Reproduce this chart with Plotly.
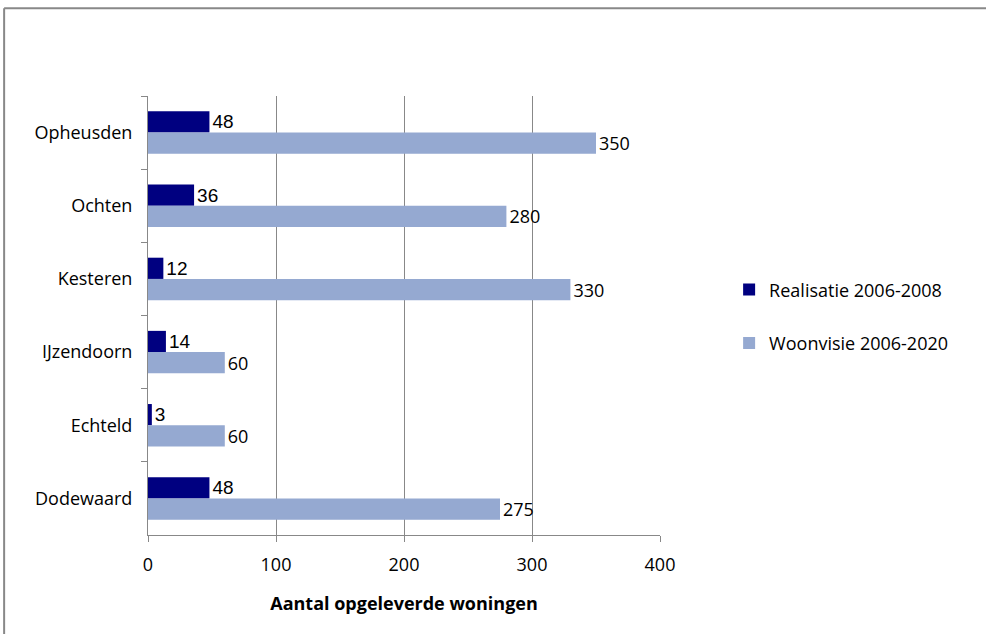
import plotly.graph_objects as go

# Kernen (top to bottom) and housing figures
kernen = ["Opheusden", "Ochten", "Kesteren", "IJzendoorn", "Echteld", "Dodewaard"]
realisatie = [48, 36, 12, 14, 3, 48]
woonvisie = [350, 280, 330, 60, 60, 275]
x_ticks = [0, 100, 200, 300, 400]

dark = "#000080"
light = "#95A9D1"
grid = "#888888"
label_font = "'Open Sans', Lato, sans-serif"

fig = go.Figure()
fig.add_trace(go.Bar(
    y=kernen, x=realisatie, orientation="h", name="Realisatie 2006-2008",
    marker=dict(color=dark, line=dict(width=0)),
    text=[str(v) for v in realisatie], textposition="outside", constraintext="none",
    textfont=dict(family="'Liberation Sans', Arial, sans-serif", size=19, color="#000000"),
    cliponaxis=False, legendgroup="a",
))
fig.add_trace(go.Bar(
    y=kernen, x=woonvisie, orientation="h", name="Woonvisie 2006-2020",
    marker=dict(color=light, line=dict(width=0)),
    text=[str(v) for v in woonvisie], textposition="outside", constraintext="none",
    textfont=dict(family=label_font, size=18, color="#000000"),
    cliponaxis=False, legendgroup="b",
))

fig.update_layout(
    width=986, height=634,
    margin=dict(l=148, r=326, t=96, b=99),
    paper_bgcolor="white", plot_bgcolor="white",
    barmode="group", bargap=0.42, bargroupgap=0,
    font=dict(family=label_font, size=18, color="#000000"),
    legend=dict(
        x=1.135, y=0.498, xanchor="left", yanchor="middle",
        font=dict(family=label_font, size=18),
        tracegroupgap=27, traceorder="grouped",
        itemwidth=30,
    ),
    xaxis=dict(
        range=[0, 400], tickvals=x_ticks, ticktext=[str(t) for t in x_ticks],
        showgrid=True, gridcolor=grid, gridwidth=1,
        showline=True, linecolor=grid, linewidth=1,
        ticks="outside", ticklen=6, tickcolor=grid,
        zeroline=False,
        tickfont=dict(family=label_font, size=18),
        ticklabelstandoff=7,
        title=dict(text="<b>Aantal opgeleverde woningen</b>", standoff=22,
                   font=dict(family=label_font, size=18)),
    ),
    yaxis=dict(
        categoryorder="array", categoryarray=kernen, autorange="reversed",
        showline=True, linecolor=grid, linewidth=1,
        ticks="outside", ticklen=6, tickcolor=grid, tickson="boundaries",
        showgrid=False,
        tickfont=dict(family=label_font, size=18),
        ticklabelstandoff=11,
    ),
    shapes=[
        # outer frame: left and top edges
        dict(type="line", xref="paper", yref="paper",
             x0=-0.281, x1=-0.281, y0=-0.3, y1=1.2,
             line=dict(color="#888888", width=2), layer="below"),
        dict(type="line", xref="paper", yref="paper",
             x0=-0.281, x1=1.66, y0=1.2, y1=1.2,
             line=dict(color="#888888", width=2), layer="below"),
    ],
)

fig.write_html("out.html")
